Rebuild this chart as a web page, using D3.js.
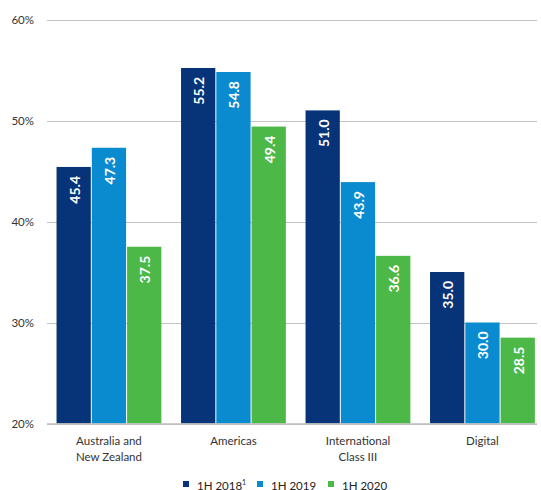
<!DOCTYPE html>
<html><head><meta charset="utf-8">
<script src="https://cdn.jsdelivr.net/npm/d3@7"></script>
<style>body{margin:0;background:#fff}svg{display:block}</style>
</head><body>
<script>
const categories = [["Australia and","New Zealand"],["Americas"],["International","Class III"],["Digital"]];
const seriesNames = ["1H 2018","1H 2019","1H 2020"];
const s2018 = [45.4, 55.2, 51.0, 35.0];
const s2019 = [47.3, 54.8, 43.9, 30.0];
const s2020 = [37.5, 49.4, 36.6, 28.5];
const yTicks = [20, 30, 40, 50, 60];
const colors = ["#073478", "#0b8bcf", "#4cb848"];
const series = [s2018, s2019, s2020];

const W = 541, H = 490;
const svg = d3.select("body").append("svg").attr("width", W).attr("height", H);
const font = "Lato, 'Open Sans', sans-serif";

const y = d3.scaleLinear().domain([20, 60]).range([423.5, 19.5]);
const x0 = d3.scaleBand().domain(d3.range(categories.length)).range([46.7, 544.7]).paddingInner(0.15).paddingOuter(0.075);
const x1 = d3.scaleBand().domain(d3.range(series.length)).range([0, x0.bandwidth()]).padding(0);

// gridlines
svg.append("g").selectAll("line").data(yTicks).join("line")
  .attr("x1", 47).attr("x2", 537)
  .attr("y1", d => Math.round(y(d)) + 0.5).attr("y2", d => Math.round(y(d)) + 0.5)
  .attr("stroke", "#c4c4c4").attr("stroke-width", 1);

// y labels
svg.append("g").selectAll("text").data(yTicks).join("text")
  .attr("x", 34).attr("y", d => y(d)).attr("dy", "0.35em")
  .attr("text-anchor", "end").attr("font-family", font).attr("font-size", 11.5).attr("fill", "#333")
  .text(d => d + "%");

// bars
const groups = svg.append("g").selectAll("g").data(categories).join("g")
  .attr("transform", (d, i) => `translate(${x0(i)},0)`);

series.forEach((s, si) => {
  groups.append("rect")
    .attr("x", x1(si) + 0.5)
    .attr("width", x1.bandwidth() - 1)
    .attr("y", (d, i) => y(s[i]))
    .attr("height", (d, i) => y(20) - y(s[i]))
    .attr("fill", colors[si]);
  groups.append("text")
    .attr("transform", (d, i) => `translate(${x1(si) + x1.bandwidth() / 2 + 1},${y(s[i]) + 9}) rotate(-90)`)
    .attr("text-anchor", "end").attr("dy", "0.36em")
    .attr("font-family", font).attr("font-weight", "bold").attr("font-size", 14).attr("fill", "#fff")
    .text((d, i) => s[i].toFixed(1));
});

// baseline
svg.append("line").attr("x1", 47).attr("x2", 537).attr("y1", 424).attr("y2", 424)
  .attr("stroke", "#bdbdbd").attr("stroke-width", 1.5);

// category labels
groups.append("text")
  .attr("x", x0.bandwidth() / 2).attr("y", 445)
  .attr("text-anchor", "middle").attr("font-family", font).attr("font-size", 11.5).attr("fill", "#333")
  .selectAll("tspan").data(d => d).join("tspan")
  .attr("x", x0.bandwidth() / 2).attr("dy", (d, i) => i === 0 ? 0 : 16).text(d => d);

// legend
const legX = [183, 257, 328];
const leg = svg.append("g").selectAll("g").data(seriesNames).join("g")
  .attr("transform", (d, i) => `translate(${legX[i]},481)`);
leg.append("rect").attr("x", 0).attr("y", 0).attr("width", 6).attr("height", 6).attr("fill", (d, i) => colors[i]);
const lt = leg.append("text").attr("x", 14).attr("y", 8.5)
  .attr("font-family", font).attr("font-size", 11.5).attr("fill", "#222");
lt.append("tspan").text(d => d);
lt.filter((d, i) => i === 0).append("tspan").attr("font-size", 7).attr("dy", -5).text("1");
</script>
</body></html>
